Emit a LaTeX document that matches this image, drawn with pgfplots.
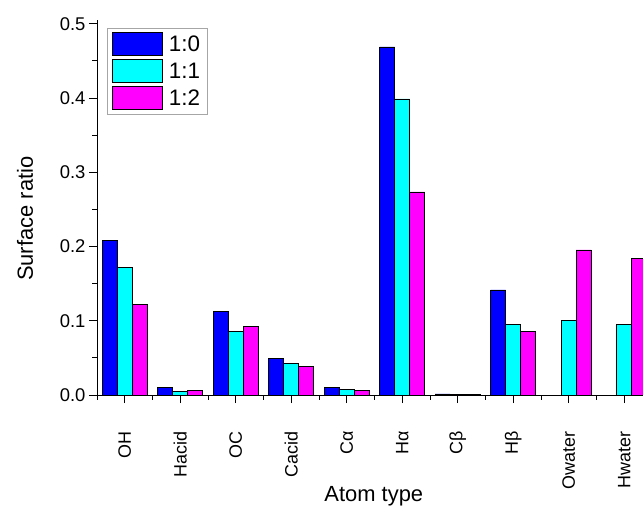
\documentclass[border=0pt]{standalone}
\usepackage{fontspec}
\setmainfont{Liberation Sans}
\usepackage{pgfplots}
\pgfplotsset{compat=1.18}
\begin{document}
\begin{tikzpicture}
\begin{axis}[
  scale only axis,
  width=546bp, height=375bp,
  xmin=-0.5, xmax=9.338,
  ymin=0, ymax=0.505,
  axis x line*=bottom, axis y line*=left,
  axis line style={line width=0.8bp, black},
  ybar=0pt, bar width=15bp,
  xtick={0,1,2,3,4,5,6,7,8,9},
  xticklabels={OH,Hacid,OC,Cacid,Cα,Hα,Cβ,Hβ,Owater,Hwater},
  minor xtick={-0.5,0.5,1.5,2.5,3.5,4.5,5.5,6.5,7.5,8.5},
  ytick={0,0.1,0.2,0.3,0.4,0.5},
  minor ytick={0.05,0.15,0.25,0.35,0.45},
  tick align=outside,
  major tick length=8bp, minor tick length=4.5bp,
  tick style={line width=0.8bp, black},
  /pgf/number format/assume math mode=true,
  yticklabel style={font=\fontsize{18.5}{20}\selectfont, /pgf/number format/fixed, /pgf/number format/fixed zerofill, /pgf/number format/precision=1},
  xticklabel style={font=\fontsize{18}{20}\selectfont, yshift=-25bp, rotate=90, anchor=east},
  xlabel={Atom type}, ylabel={Surface ratio},
  label style={font=\fontsize{22}{24}\selectfont},
  xlabel style={at={(axis description cs:0.507,-0.285)}, anchor=base},
  ylabel style={at={(axis description cs:-0.132,0.47)}, anchor=center, rotate=0},
  legend style={at={(0,1)}, anchor=north west, xshift=10bp, yshift=-8bp,
    draw=gray!70, line width=0.6bp, font=\fontsize{22.5}{24}\selectfont,
    inner xsep=5bp, inner ysep=4bp, row sep=3.5bp, cells={anchor=west},
    /tikz/every odd column/.append style={column sep=4bp}},
  legend image code/.code={\draw[#1, draw=black, line width=0.6bp] (0bp,-11.5bp) rectangle (50bp,11.5bp);},
]
\addplot[fill={rgb,255:red,0;green,0;blue,255}, draw=black, line width=0.6bp] coordinates {
 (0,0.2086) (1,0.0104) (2,0.113) (3,0.0498) (4,0.0098) (5,0.4687) (6,0.0015) (7,0.1416)};
\addplot[fill={rgb,255:red,0;green,255;blue,255}, draw=black, line width=0.6bp] coordinates {
 (0,0.172) (1,0.005) (2,0.0857) (3,0.0427) (4,0.0077) (5,0.3987) (6,0.0005) (7,0.0953) (8,0.1003) (9,0.0949)};
\addplot[fill={rgb,255:red,255;green,0;blue,255}, draw=black, line width=0.6bp] coordinates {
 (0,0.122) (1,0.0058) (2,0.092) (3,0.038) (4,0.0058) (5,0.2735) (6,0.0005) (7,0.0855) (8,0.1954) (9,0.184)};
\legend{1:0,1:1,1:2}
\end{axis}
\pgfresetboundingbox
\path[use as bounding box] ([xshift=-97bp,yshift=-111bp]current axis.south west) rectangle ([yshift=20bp]current axis.north east);
\end{tikzpicture}
\end{document}
